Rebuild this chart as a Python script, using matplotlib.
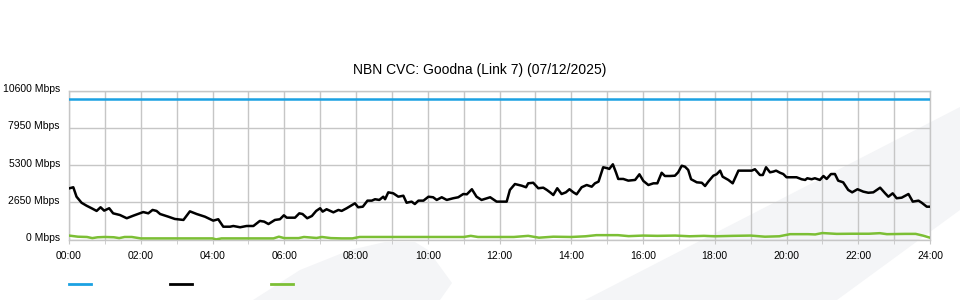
import matplotlib
matplotlib.use("Agg")
import matplotlib.pyplot as plt
import matplotlib.transforms as mtrans
from matplotlib.lines import Line2D
from matplotlib.patches import Polygon

plt.rcParams['font.family'] = ['Liberation Sans', 'DejaVu Sans']

title = "NBN CVC: Goodna (Link 7) (07/12/2025)"

# capacity of the link (Mbps), flat across the day
cap_hours = [0, 24]
cap_mbps = [10000, 10000]

# traffic (black), hours of day / Mbps
traffic_hours = [
    0.0, 0.12, 0.21, 0.35, 0.49, 0.63, 0.77, 0.88, 0.98, 1.12,
    1.23, 1.42, 1.61, 1.79, 2.07, 2.21, 2.33, 2.44, 2.54, 2.77,
    2.95, 3.19, 3.37, 3.56, 3.79, 4.02, 4.16, 4.30, 4.49, 4.58,
    4.77, 4.95, 5.14, 5.32, 5.44, 5.56, 5.74, 5.88, 5.99, 6.07,
    6.30, 6.42, 6.51, 6.64, 6.77, 6.89, 7.00, 7.07, 7.18, 7.37,
    7.51, 7.60, 7.74, 7.97, 8.06, 8.19, 8.32, 8.44, 8.53, 8.65,
    8.76, 8.81, 8.90, 9.04, 9.18, 9.32, 9.41, 9.55, 9.64, 9.74,
    9.88, 10.02, 10.15, 10.25, 10.39, 10.53, 10.71, 10.85, 10.99, 11.09,
    11.23, 11.36, 11.50, 11.74, 11.92, 12.11, 12.20, 12.29, 12.43, 12.62,
    12.74, 12.80, 12.94, 13.08, 13.22, 13.32, 13.41, 13.50, 13.61, 13.73,
    13.85, 13.95, 14.06, 14.15, 14.29, 14.43, 14.57, 14.66, 14.76, 14.89,
    15.01, 15.06, 15.16, 15.25, 15.31, 15.45, 15.59, 15.78, 15.90, 16.01,
    16.15, 16.29, 16.40, 16.52, 16.61, 16.75, 16.89, 16.98, 17.08, 17.17,
    17.26, 17.34, 17.50, 17.64, 17.73, 17.82, 17.96, 18.05, 18.15, 18.22,
    18.38, 18.50, 18.66, 18.84, 19.03, 19.12, 19.26, 19.34, 19.43, 19.54,
    19.63, 19.71, 19.82, 19.91, 20.00, 20.14, 20.28, 20.42, 20.52, 20.58,
    20.70, 20.79, 20.93, 21.03, 21.12, 21.24, 21.35, 21.44, 21.58, 21.72,
    21.83, 21.98, 22.14, 22.28, 22.42, 22.61, 22.75, 22.84, 22.96, 23.07,
    23.21, 23.40, 23.52, 23.68, 23.77, 23.91, 24.0,
]
traffic_mbps = [
    3650, 3730, 3060, 2630, 2420, 2240, 2050, 2310, 2070, 2240,
    1880, 1760, 1530, 1710, 1970, 1880, 2120, 2050, 1830, 1640,
    1480, 1410, 2020, 1830, 1640, 1360, 1460, 930, 930, 980,
    890, 980, 980, 1340, 1290, 1120, 1410, 1460, 1740, 1570,
    1570, 1880, 1830, 1530, 1690, 2050, 2240, 2000, 2170, 1950,
    2120, 2050, 2240, 2590, 2310, 2350, 2780, 2780, 2880, 2830,
    3060, 2880, 3370, 3300, 3060, 3130, 2630, 2710, 2540, 2780,
    2780, 3060, 3020, 2830, 3020, 2830, 2950, 3020, 3250, 3230,
    3590, 3060, 2830, 3020, 2710, 2710, 2710, 3540, 3960, 3840,
    3730, 4010, 4050, 3660, 3700, 3540, 3370, 3180, 3660, 3250,
    3370, 3590, 3370, 3230, 3730, 3890, 3770, 4010, 4130, 5150,
    5080, 5030, 5360, 4760, 4320, 4320, 4200, 4250, 4650, 4180,
    3890, 4010, 4010, 4760, 4530, 4530, 4550, 4790, 5260, 5190,
    4960, 4300, 4080, 4050, 3820, 4130, 4550, 4650, 4910, 4480,
    4250, 4010, 4910, 4910, 4910, 5010, 4600, 4600, 5150, 4790,
    4840, 4910, 4760, 4670, 4440, 4440, 4440, 4300, 4250, 4370,
    4300, 4370, 4250, 4530, 4320, 4670, 4670, 4200, 4080, 3540,
    3370, 3590, 3420, 3340, 3370, 3700, 3300, 3060, 3300, 2950,
    2990, 3250, 2710, 2780, 2630, 2350, 2350,
]

# second series (green), hours of day / Mbps
green_hours = [
    0.0, 0.25, 0.5, 0.65, 0.8, 1.0, 1.25, 1.4, 1.55, 1.75,
    2.0, 3.0, 4.0, 4.1, 4.25, 5.0, 5.7, 5.85, 6.0, 6.4,
    6.55, 6.9, 7.05, 7.3, 7.6, 7.9, 8.1, 9.0, 10.0, 11.0,
    11.2, 11.4, 12.0, 12.4, 12.8, 13.1, 13.5, 14.0, 14.4, 14.7,
    15.3, 15.6, 16.0, 16.4, 16.9, 17.3, 17.7, 18.0, 18.5, 19.0,
    19.4, 19.8, 20.1, 20.6, 20.8, 21.0, 21.4, 21.8, 22.3, 22.6,
    22.8, 23.3, 23.6, 23.8, 24.0,
]
green_mbps = [
    300, 220, 200, 120, 180, 200, 180, 120, 200, 200,
    100, 100, 100, 30, 100, 100, 100, 220, 120, 120,
    200, 130, 200, 120, 100, 100, 200, 200, 200, 200,
    280, 200, 200, 200, 280, 150, 220, 200, 250, 330,
    330, 260, 300, 280, 300, 250, 280, 250, 280, 300,
    220, 250, 400, 400, 380, 480, 420, 430, 430, 470,
    400, 420, 420, 300, 150,
]

y_ticks = [0, 2650, 5300, 7950, 10600]
x_ticks = list(range(0, 25, 2))

blue = "#1ba1e2"
green = "#7cbf35"
grid_c = "#c6c6c6"

fig = plt.figure(figsize=(9.6, 3.0), dpi=100)

# faint background watermark
wm = "#f4f5f7"
fig.patches.append(Polygon([(253/960, 0), (300/960, 30/300), (350/960, 50/300), (385/960, 58/300),
                            (415/960, 58/300), (428/960, 50/300), (452/960, 17/300), (440/960, 0)],
                           closed=True, transform=fig.transFigure, facecolor=wm, edgecolor='none', zorder=-10))
fig.patches.append(Polygon([(585/960, 0), (1.0, 193/300), (1.0, 90/300), (837/960, 0)],
                           closed=True, transform=fig.transFigure, facecolor=wm, edgecolor='none', zorder=-10))

ax = fig.add_axes([69/960, 1 - 239.8/300, 861/960, (239.8 - 90.5)/300])
ax.patch.set_alpha(0)

ax.plot(cap_hours, cap_mbps, color=blue, lw=1.8, zorder=3)
ax.plot(traffic_hours, traffic_mbps, color="black", lw=1.8, zorder=4)
ax.plot(green_hours, green_mbps, color=green, lw=1.8, zorder=3)

ax.set_xlim(0, 24)
ax.set_ylim(0, 10600)
ax.set_xticks(x_ticks)
ax.set_xticklabels(["%02d:00" % h for h in x_ticks])
ax.set_xticks(range(0, 25), minor=True)
ax.set_yticks(y_ticks)
ax.set_yticklabels(["%d Mbps" % v for v in y_ticks])
ax.grid(True, which='both', axis='x', color=grid_c, lw=1)
ax.grid(True, axis='y', color=grid_c, lw=1)
ax.tick_params(axis='x', which='both', length=3, color=grid_c, labelsize=7.5, pad=5)
ax.tick_params(axis='y', length=0, labelsize=7.5, pad=6.5)
for s in ax.spines.values():
    s.set_color(grid_c)
    s.set_linewidth(1)

# y labels sit a little above their grid lines
up = mtrans.ScaledTranslation(0, 2.5/100, fig.dpi_scale_trans)
for lab in ax.get_yticklabels():
    lab.set_transform(lab.get_transform() + up)

fig.text(0.5, 1 - 70/300, title, ha='center', va='center', fontsize=10)

handles = [Line2D([], [], color=blue, lw=2), Line2D([], [], color="black", lw=2),
           Line2D([], [], color=green, lw=2)]
fig.legend(handles, ["", "", ""], ncol=3, loc='center left', bbox_to_anchor=(69/960, 15/300),
           frameon=False, fontsize=8, handlelength=2.0, handletextpad=0, columnspacing=7.1,
           borderpad=0, borderaxespad=0)

fig.savefig("out.png", dpi=100)
